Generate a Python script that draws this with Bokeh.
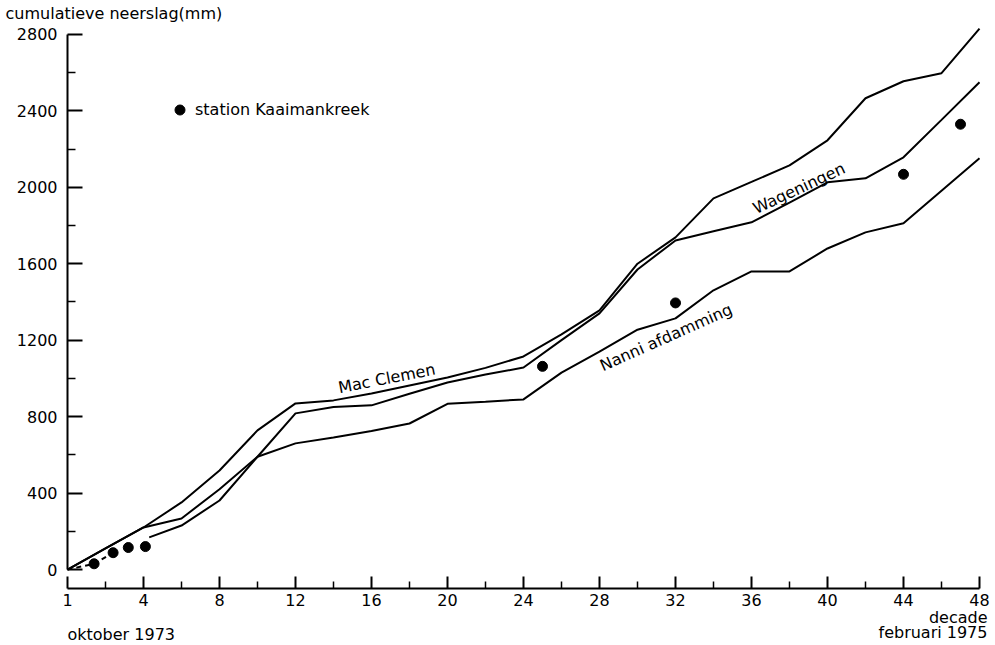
from bokeh.plotting import figure
from bokeh.models import FixedTicker, Label, Legend, LegendItem, Range1d, LinearAxis
from bokeh.embed import file_html
from bokeh.resources import INLINE

# ---- data (decade index, cumulative rainfall in mm) ----
decades = [0, 2, 4, 6, 8, 10, 12, 14, 16, 18, 20, 22, 24, 26, 28, 30, 32, 34, 36, 38, 40, 42, 44, 46, 48]
mac_clemen = [0, 110, 220, 351, 518, 728, 869, 885, 921, 963, 1005, 1055, 1115, 1230, 1356,
              1600, 1738, 1942, 2028, 2115, 2246, 2466, 2555, 2597, 2830]
wageningen = [0, 110, 220, 267, 420, 590, 817, 850, 859, 920, 979, 1020, 1057, 1200, 1340,
              1570, 1722, 1770, 1817, 1920, 2026, 2047, 2157, 2353, 2550]
nanni_x = [4.3, 6, 8, 10, 12, 14, 16, 18, 20, 22, 24, 26, 28, 30, 32, 34, 36, 38, 40, 42, 44, 46, 48]
nanni = [168, 230, 361, 590, 660, 691, 725, 764, 867, 878, 890, 1030, 1140, 1255, 1314,
         1461, 1560, 1560, 1680, 1764, 1812, 1982, 2152]
kaaiman_x = [1.4, 2.4, 3.2, 4.1, 25, 32, 44, 47]
kaaiman_y = [30, 88, 115, 120, 1063, 1395, 2068, 2330]
kaaiman_dash_x = [0, 1.4, 2.4]
kaaiman_dash_y = [0, 30, 88]

x_ticks = [0, 4, 8, 12, 16, 20, 24, 28, 32, 36, 40, 44, 48]
x_tick_labels = ["1", "4", "8", "12", "16", "20", "24", "28", "32", "36", "40", "44", "48"]
x_minor = [2, 6, 10, 14, 18, 22, 26, 30, 34, 38, 42, 46]
y_ticks = [0, 400, 800, 1200, 1600, 2000, 2400, 2800]
y_minor = [200, 600, 1000, 1400, 1800, 2200, 2600]

FONT = "DejaVu Sans"
FS = "16px"

p = figure(width=992, height=643, output_backend="svg", toolbar_location=None,
           x_range=Range1d(-3.526, 48.684), y_range=Range1d(-387.2, 2977.5),
           x_axis_location=None, y_axis_location=None,
           min_border=0, min_border_left=0, min_border_right=0,
           min_border_top=0, min_border_bottom=0)
p.outline_line_color = None
p.xgrid.grid_line_color = None
p.ygrid.grid_line_color = None
p.background_fill_color = "white"
p.border_fill_color = "white"

# axes (fixed inside the frame)
xa = LinearAxis(fixed_location=-100)
xa.ticker = FixedTicker(ticks=x_ticks, minor_ticks=x_minor)
xa.major_label_overrides = {t: l for t, l in zip(x_ticks, x_tick_labels)}
xa.bounds = (0, 48)
xa.axis_line_width = 2
xa.axis_line_color = "black"
xa.major_tick_in = 12
xa.major_tick_out = 0
xa.minor_tick_in = 7
xa.minor_tick_out = 0
xa.major_tick_line_width = 2
xa.minor_tick_line_width = 1.5
xa.major_tick_line_color = "black"
xa.minor_tick_line_color = "black"
xa.major_label_standoff = 5
xa.major_label_text_font = FONT
xa.major_label_text_font_size = FS
xa.major_label_text_color = "black"
p.add_layout(xa, "below")

ya = LinearAxis(fixed_location=0)
ya.ticker = FixedTicker(ticks=y_ticks, minor_ticks=y_minor)
ya.bounds = (0, 2800)
ya.axis_line_width = 2
ya.axis_line_color = "black"
ya.major_tick_in = 15
ya.major_tick_out = 0
ya.minor_tick_in = 8
ya.minor_tick_out = 0
ya.major_tick_line_width = 2
ya.minor_tick_line_width = 1.5
ya.major_tick_line_color = "black"
ya.minor_tick_line_color = "black"
ya.major_label_standoff = 10
ya.major_label_text_font = FONT
ya.major_label_text_font_size = FS
ya.major_label_text_color = "black"
p.add_layout(ya, "left")

# lines
p.line(decades, mac_clemen, line_color="black", line_width=2)
p.line(decades, wageningen, line_color="black", line_width=2)
p.line(nanni_x, nanni, line_color="black", line_width=2)
p.line(kaaiman_dash_x, kaaiman_dash_y, line_color="black", line_width=2, line_dash="5 4")
dots = p.scatter(kaaiman_x, kaaiman_y, size=10, color="black")

# legend
legend = Legend(items=[LegendItem(label="station Kaaimankreek", renderers=[dots])],
                location=(167, 521), orientation="vertical",
                border_line_color=None, background_fill_alpha=0,
                padding=0, margin=0, spacing=0,
                glyph_width=25, glyph_height=25, label_standoff=3,
                label_text_font=FONT, label_text_font_size=FS,
                label_text_color="black", label_text_baseline="middle")
p.add_layout(legend, "center")

# line labels
def txt(x, y, t, angle=0, align="center"):
    p.add_layout(Label(x=x, y=y, text=t, angle=angle, angle_units="deg",
                       text_align=align, text_baseline="middle",
                       text_font=FONT, text_font_size=FS, text_color="black"))

txt(16.8, 1000, "Mac Clemen", 11)
txt(38.5, 1995, "Wageningen", 25)
txt(31.5, 1215, "Nanni afdamming", 24)

# axis titles / notes
txt(-3.26, 2908, "cumulatieve neerslag(mm)", 0, "left")
txt(0, -340, "oktober 1973", 0, "left")
txt(48.42, -253, "decade", 0, "right")
txt(48.42, -330, "februari 1975", 0, "right")

open("out.html", "w").write(file_html(p, INLINE))
